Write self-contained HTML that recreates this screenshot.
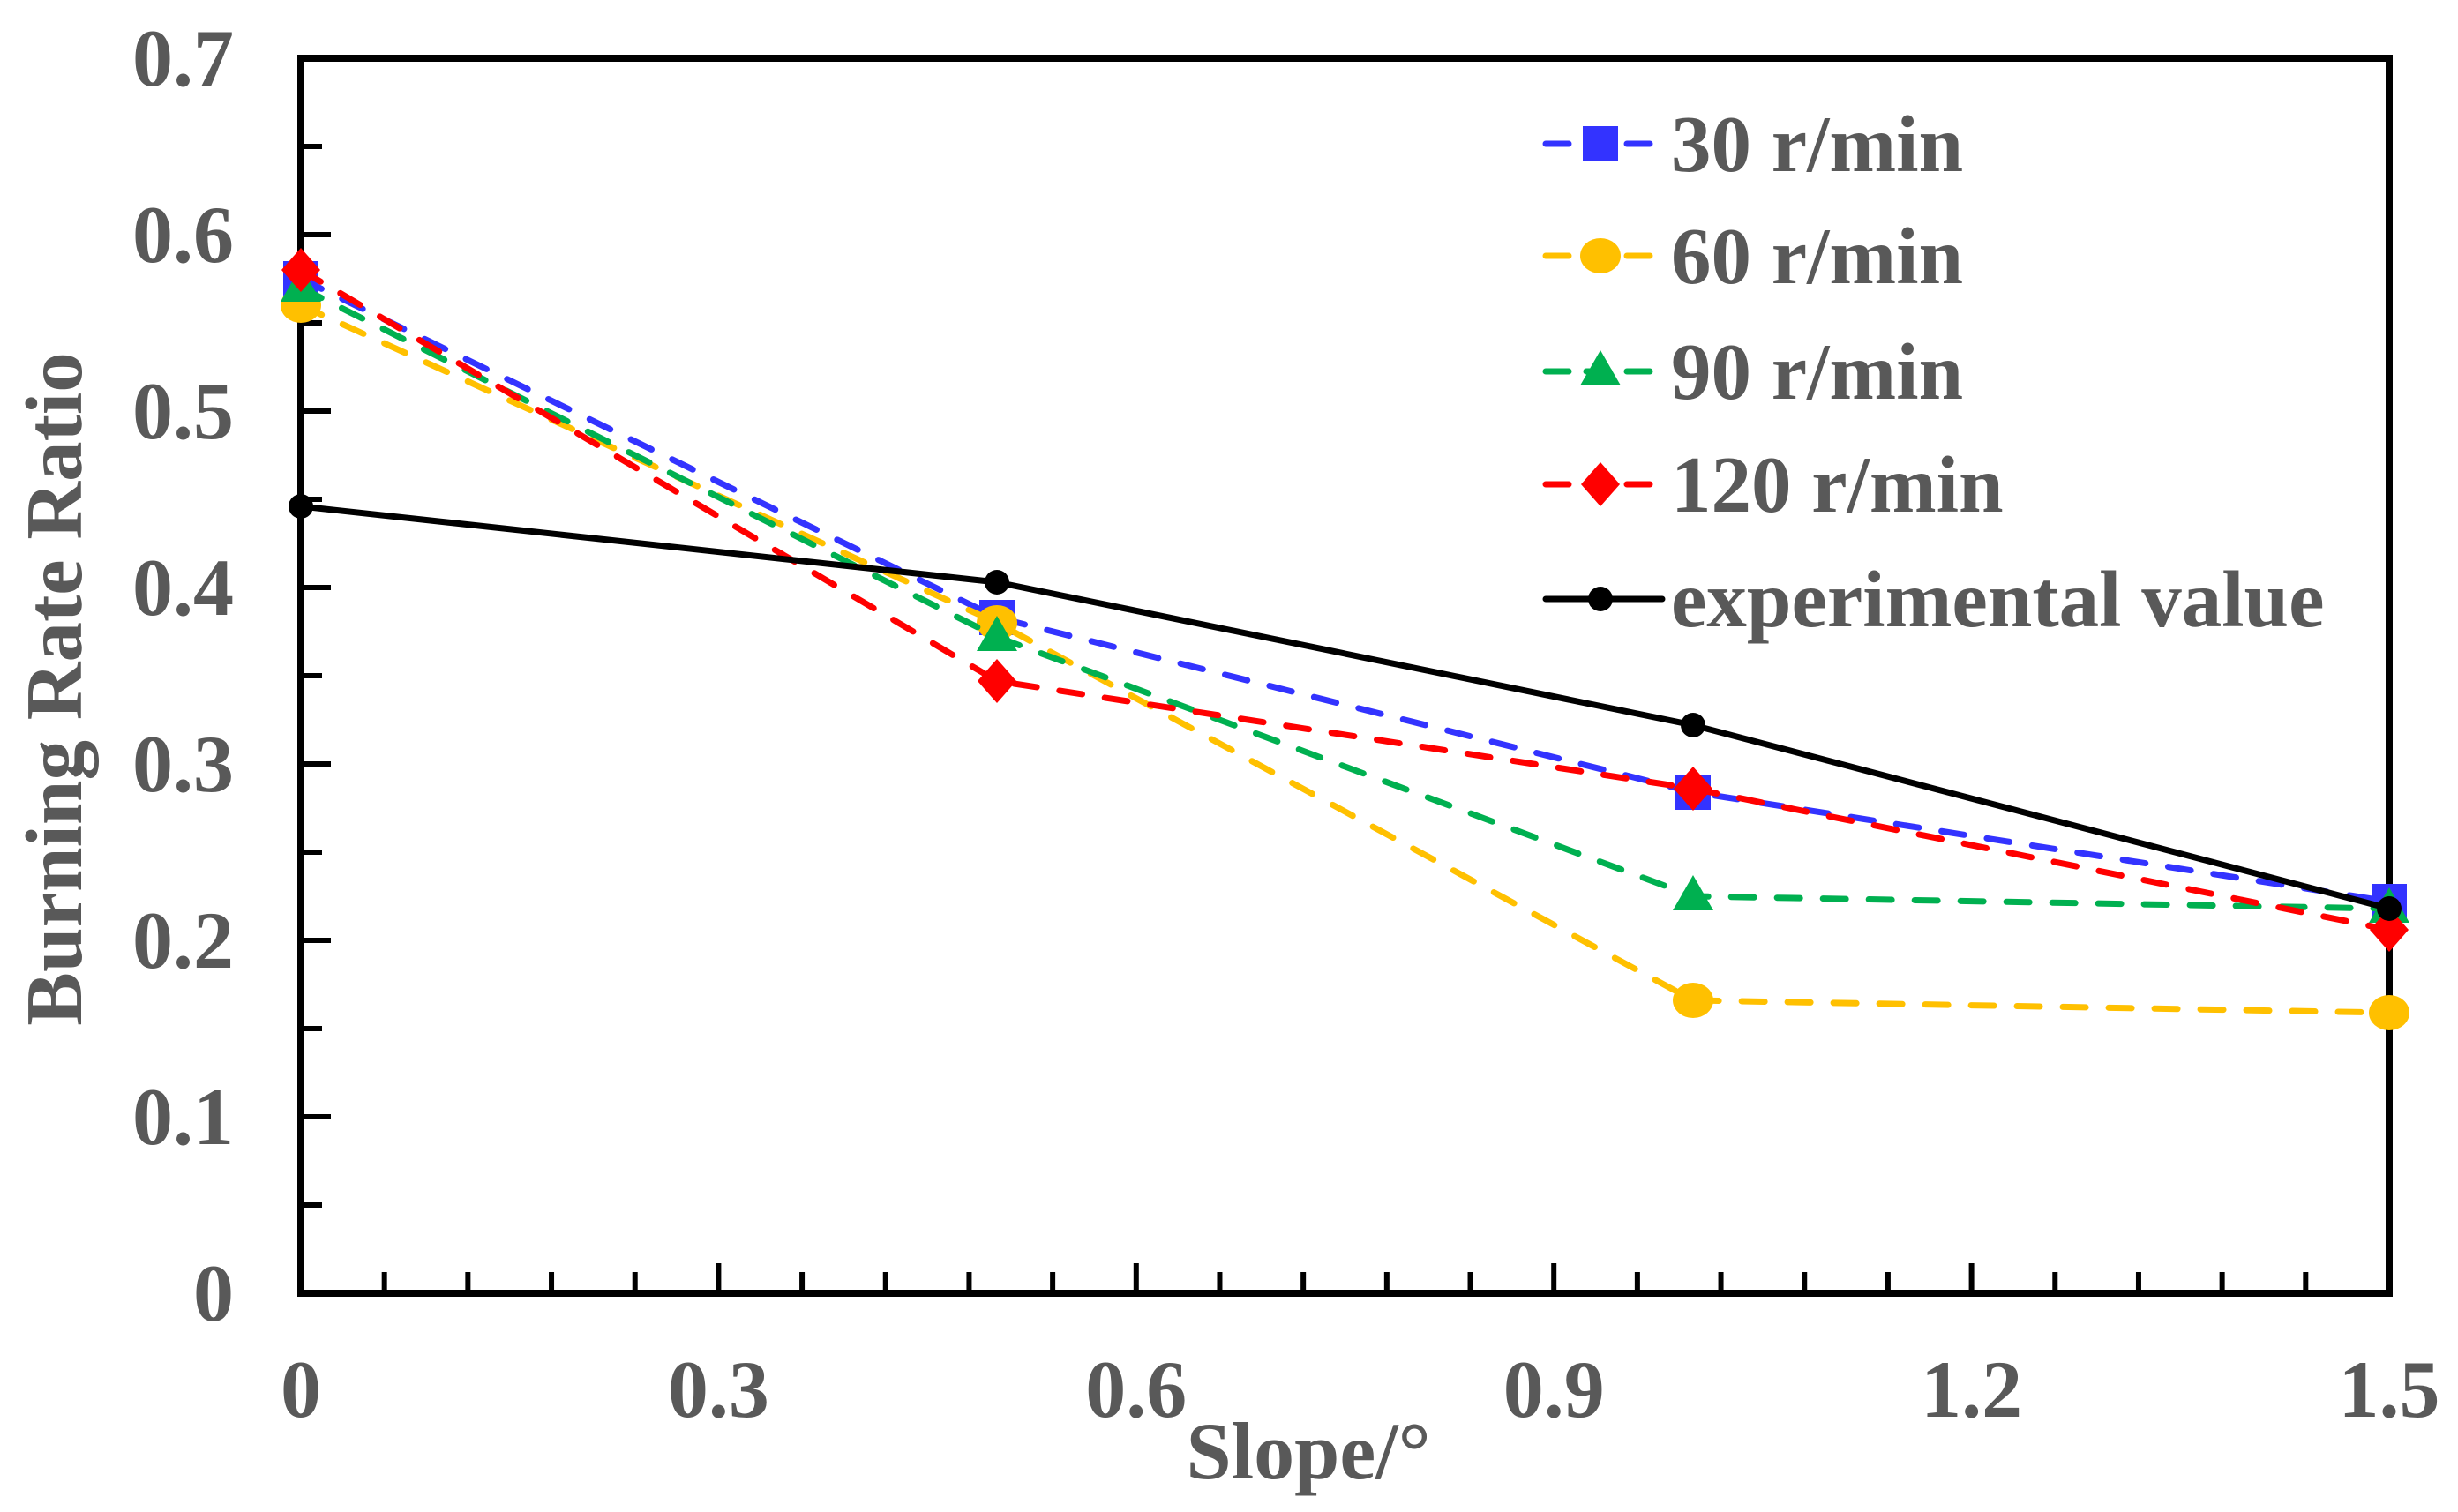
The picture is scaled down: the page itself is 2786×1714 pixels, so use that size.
<!DOCTYPE html>
<html><head><meta charset="utf-8"><style>
body{margin:0;background:#fff}
svg text{font-family:"Liberation Serif",serif;font-weight:bold;fill:#595959}
</style></head><body>
<svg id="c" width="2786" height="1709" viewBox="0 0 2786 1709" xmlns="http://www.w3.org/2000/svg"></svg>
<script>
const xs=[0,0.5,1.0,1.5];
const s30=[0.575,0.383,0.284,0.222];
const s60=[0.560,0.380,0.166,0.159];
const s90=[0.570,0.372,0.225,0.218];
const s120=[0.580,0.347,0.286,0.206];
const sExp=[0.446,0.403,0.322,0.218];
const xTicks=[0,0.3,0.6,0.9,1.2,1.5];
const yTicks=[0,0.1,0.2,0.3,0.4,0.5,0.6,0.7];
const names=["30 r/min","60 r/min","90 r/min","120 r/min","experimental value"];
const L=341,R=2708,T=66,B=1466;
const X=v=>L+(v/1.5)*(R-L), Y=v=>B-(v/0.7)*(B-T);
const svg=document.getElementById('c');const NS='http://www.w3.org/2000/svg';
function mk(t,a,p){const e=document.createElementNS(NS,t);for(const k in a)e.setAttribute(k,a[k]);(p||svg).appendChild(e);return e;}
for(let i=1;i<25;i++){const v=i*0.06;const maj=i%5==0;
 const e=mk('line',{x1:X(v),x2:X(v),y1:B,y2:B-(maj?34:24),stroke:'#000','stroke-width':6});
 }
for(let i=1;i<14;i++){const v=i*0.05;const maj=i%2==0;
 const e=mk('line',{x1:L,x2:L+(maj?34:24),y1:Y(v),y2:Y(v),stroke:'#000','stroke-width':6});
 }
const fr=mk('rect',{x:L,y:T,width:R-L,height:B-T,fill:'none',stroke:'#000','stroke-width':8});

xTicks.forEach(v=>{const t=mk('text',{x:X(v),y:1606,'font-size':92,'text-anchor':'middle'});t.textContent=String(v);
 });
yTicks.forEach(v=>{const t=mk('text',{x:265,y:Y(v)+31,'font-size':92,'text-anchor':'end'});t.textContent=String(v);
 });
const xt=mk('text',{x:1483,y:1676,'font-size':92,'text-anchor':'middle'});xt.textContent='Slope/°';

const yt=mk('text',{x:0,y:0,'font-size':91,'text-anchor':'middle',transform:'translate(92,781) rotate(-90)'});yt.textContent='Burning Rate Ratio';

function marker(type,cx,cy,col,g){
 if(type=='sq')return mk('rect',{x:cx-20,y:cy-20,width:40,height:40,fill:col},g);
 if(type=='ci')return mk('ellipse',{cx:cx,cy:cy,rx:23,ry:20,fill:col},g);
 if(type=='tr')return mk('polygon',{points:`${cx},${cy-24} ${cx+23},${cy+16} ${cx-23},${cy+16}`,fill:col},g);
 if(type=='di')return mk('polygon',{points:`${cx},${cy-25} ${cx+22},${cy} ${cx},${cy+25} ${cx-22},${cy}`,fill:col},g);
 return mk('circle',{cx:cx,cy:cy,r:14,fill:col},g);}
const series=[[s30,'#3333FF','sq',true,'series-30'],[s60,'#FFC000','ci',true,'series-60'],[s90,'#00B050','tr',true,'series-90'],[s120,'#FF0000','di',true,'series-120'],[sExp,'#000','dot',false,'series-experimental']];
series.forEach(([d,col,m,dash,nm],k)=>{
 const g=mk('g',{});
 const pts=d.map((v,i)=>X(xs[i])+','+Y(v)).join(' ');
 const a={points:pts,fill:'none',stroke:col,'stroke-width':dash?7:7,'stroke-linecap':'round'};
 if(dash)a['stroke-dasharray']='26 26';
 mk('polyline',a,g);
 d.forEach((v,i)=>{const e=marker(m,X(xs[i]),Y(v),col,g);});
 const ly=[163,290,421,549,679][k];
 const lg=mk('g',{});
 const la={x1:1752,x2:1884,y1:ly,y2:ly,stroke:col,'stroke-width':7,'stroke-linecap':'round'};
 if(dash)la['stroke-dasharray']='26 20';
 mk('line',la,lg);marker(m,1814,ly,col,lg);
 const t=mk('text',{x:1894,y:ly+31,'font-size':91},lg);t.textContent=names[k];
});
</script>
</body></html>
